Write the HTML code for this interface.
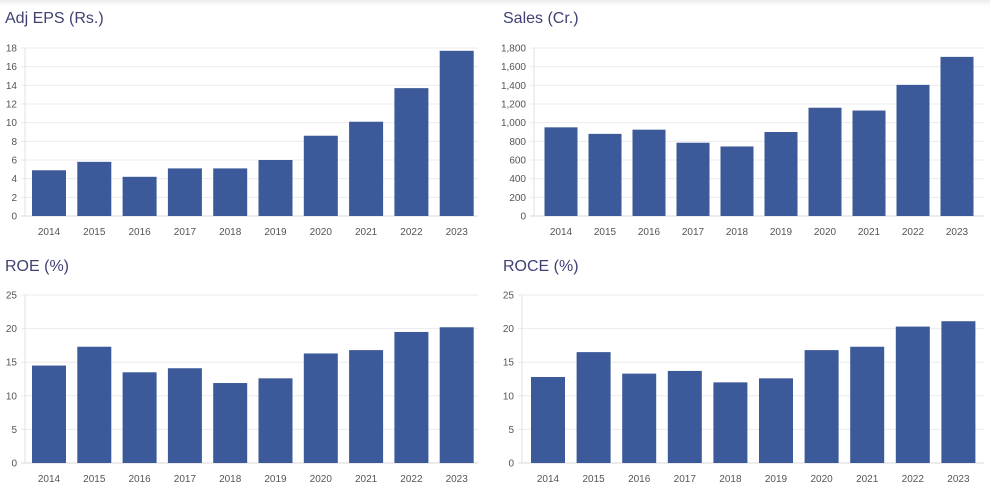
<!DOCTYPE html>
<html><head><meta charset="utf-8"><style>
body{margin:0;background:#fff;width:990px;height:496px;overflow:hidden;font-family:"Liberation Sans",sans-serif}
svg{position:absolute;left:0;top:0}
</style></head><body>
<svg id="s" width="990" height="496" xmlns="http://www.w3.org/2000/svg"></svg>
<script>
const yrs=[2014,2015,2016,2017,2018,2019,2020,2021,2022,2023];
const charts=[
 {t:"Adj EPS (Rs.)",tx:5,ty:23,ax:25,x0:49,dx:45.3,bw:34,top:48,bot:216,max:18,step:2,v:[4.9,5.8,4.2,5.1,5.1,6.0,8.6,10.1,13.7,17.7],fmt:x=>x},
 {t:"Sales (Cr.)",tx:503,ty:23,ax:534,x0:561,dx:44,bw:33,top:48,bot:216,max:1800,step:200,v:[950,880,925,785,745,900,1160,1130,1405,1705],fmt:x=>x.toLocaleString('en-US')},
 {t:"ROE (%)",tx:5,ty:271,ax:25,x0:49,dx:45.3,bw:34,top:295,bot:463,max:25,step:5,v:[14.5,17.3,13.5,14.1,11.9,12.6,16.3,16.8,19.5,20.2],fmt:x=>x},
 {t:"ROCE (%)",tx:503,ty:271,ax:522,x0:548,dx:45.6,bw:34,top:295,bot:463,max:25,step:5,v:[12.8,16.5,13.3,13.7,12.0,12.6,16.8,17.3,20.3,21.1],fmt:x=>x}
];
let h='<defs><linearGradient id="g" x1="0" y1="0" x2="0" y2="1"><stop offset="0" stop-color="#ececef"/><stop offset="1" stop-color="#fff"/></linearGradient></defs><rect x="0" y="0" width="990" height="6" fill="url(#g)"/>';
for(const c of charts){
 const right=c.ax===25?478:984;
 h+=`<text x="${c.tx}" y="${c.ty}" font-size="16" fill="#3f4172">${c.t}</text>`;
 for(let v=0;v<=c.max;v+=c.step){
  const y=c.bot-(v/c.max)*(c.bot-c.top);
  h+=`<line x1="${c.ax-4}" x2="${right}" y1="${y}" y2="${y}" stroke="${v==0?'#d8d8dc':'#ebebee'}"/>`;
  h+=`<text x="${c.ax-8}" y="${y+3.5}" font-size="10" fill="#555" text-anchor="end">${c.fmt(v)}</text>`;
 }
 h+=`<line x1="${c.ax}" x2="${c.ax}" y1="${c.top}" y2="${c.bot}" stroke="#e0e0e4"/>`;
 c.v.forEach((v,i)=>{
  const cx=c.x0+i*c.dx, y=c.bot-(v/c.max)*(c.bot-c.top);
  h+=`<rect x="${cx-c.bw/2}" y="${y}" width="${c.bw}" height="${c.bot-y}" fill="#3c5a99"/>`;
  h+=`<text x="${cx}" y="${c.bot+19}" font-size="10" fill="#555" text-anchor="middle">${yrs[i]}</text>`;
 });
}
document.getElementById('s').innerHTML=h;
</script>
</body></html>
